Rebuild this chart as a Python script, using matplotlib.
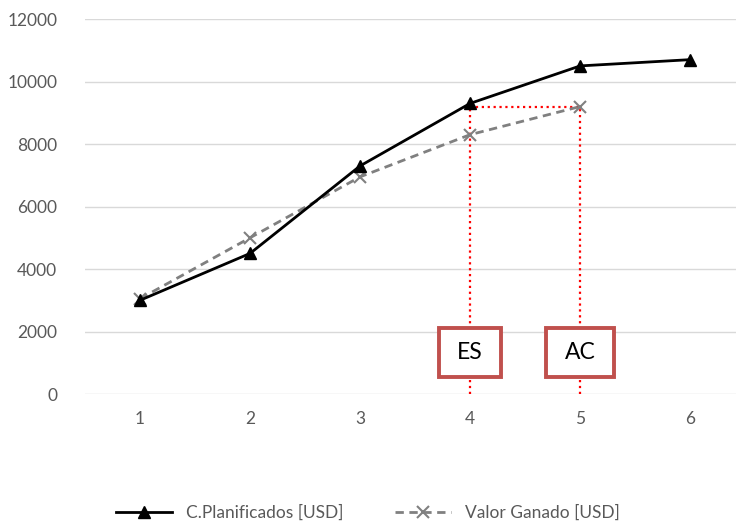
import matplotlib.pyplot as plt
from matplotlib.patches import Rectangle

# Datos del proyecto
periodos = [1, 2, 3, 4, 5, 6]
costos_planificados = [3000, 4500, 7300, 9300, 10500, 10700]
valor_ganado = [3050, 5000, 6950, 8300, 9200]

plt.rcParams['font.family'] = ['Lato', 'DejaVu Sans']

fig = plt.figure(figsize=(7.36, 5.24), dpi=100)
ax = fig.add_axes([0.1155, 0.248, 0.897, 0.7157])

ax.plot(periodos, costos_planificados, color='black', linewidth=2,
        marker='^', markersize=8, label='C.Planificados [USD]', zorder=4)
ax.plot(periodos[:len(valor_ganado)], valor_ganado, color='#808080', linewidth=2,
        linestyle=(0, (3, 2)), marker='x', markersize=9, markeredgewidth=1.5,
        label='Valor Ganado [USD]', zorder=3)

# Lineas de referencia ES / AC
ev_actual = valor_ganado[-1]
ax.plot([4, 5], [ev_actual, ev_actual], color='red', linestyle=':', linewidth=1.6, zorder=2)
ax.plot([4, 4], [0, costos_planificados[3]], color='red', linestyle=':', linewidth=1.6, zorder=2)
ax.plot([5, 5], [0, ev_actual], color='red', linestyle=':', linewidth=1.6, zorder=2)

for xc, txt, w in [(4, 'ES', 0.57), (5, 'AC', 0.62)]:
    ax.add_patch(Rectangle((xc - w / 2, 560), w, 1560, facecolor='white',
                           edgecolor='#C0504D', linewidth=2.8, zorder=5))
    ax.text(xc, 1340, txt, ha='center', va='center', fontsize=16.5,
            color='black', zorder=6)

ax.set_xlim(0.5, 6.5)
ax.set_ylim(0, 12000)
ax.set_xticks(periodos)
ax.set_yticks(range(0, 12001, 2000))
ax.grid(axis='y', color='#D9D9D9', linewidth=1)
ax.set_axisbelow(True)
for s in ax.spines.values():
    s.set_visible(False)
ax.tick_params(length=0, labelsize=12.5, labelcolor='#595959')
ax.tick_params(axis='x', pad=12)
ax.tick_params(axis='y', pad=20)

fig.legend(loc='center', bbox_to_anchor=(0.5, 0.022), ncol=2, frameon=False,
           fontsize=12.5, labelcolor='#595959', handlelength=3.2, columnspacing=3)

fig.savefig('out.png', dpi=100)
